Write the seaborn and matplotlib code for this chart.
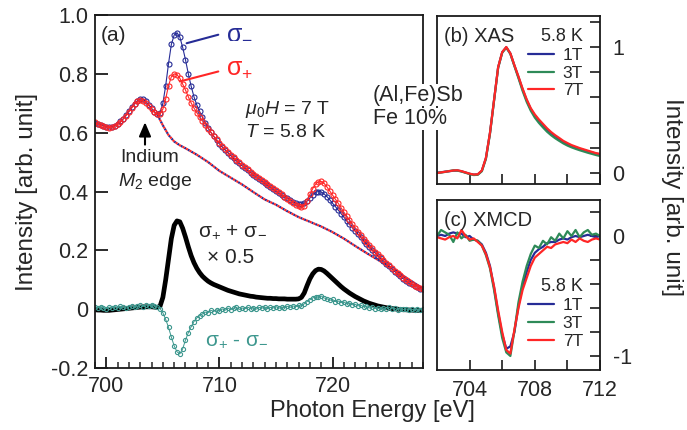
import numpy as np
import matplotlib
matplotlib.use("Agg")
import matplotlib.pyplot as plt
import seaborn as sns

# ---- panel (a): XAS spectra, 0.25 eV grid ----
energy_a = np.arange(699.0, 728.001, 0.25)

sigma_minus = [
    0.633, 0.630, 0.627, 0.623, 0.620, 0.618, 0.620, 0.624,
    0.630, 0.638, 0.648, 0.660, 0.673, 0.686, 0.699, 0.709,
    0.715, 0.713, 0.706, 0.695, 0.683, 0.671, 0.664, 0.668,
    0.700, 0.760, 0.835, 0.900, 0.932, 0.940, 0.925, 0.890,
    0.848, 0.800, 0.758, 0.722, 0.694, 0.672, 0.652, 0.634,
    0.617, 0.601, 0.587, 0.574, 0.562, 0.551, 0.541, 0.531,
    0.522, 0.513, 0.504, 0.496, 0.488, 0.480, 0.472, 0.464,
    0.457, 0.450, 0.443, 0.436, 0.429, 0.422, 0.415, 0.408,
    0.401, 0.395, 0.389, 0.383, 0.377, 0.371, 0.365, 0.360,
    0.357, 0.356, 0.360, 0.368, 0.378, 0.389, 0.397, 0.400,
    0.398, 0.392, 0.383, 0.372, 0.360, 0.349, 0.337, 0.325,
    0.313, 0.301, 0.289, 0.277, 0.266, 0.255, 0.244, 0.233,
    0.222, 0.212, 0.202, 0.192, 0.182, 0.173, 0.164, 0.155,
    0.146, 0.137, 0.128, 0.120, 0.112, 0.104, 0.096, 0.089,
    0.084, 0.079, 0.074, 0.070, 0.067,
]
sigma_plus = [
    0.635, 0.628, 0.625, 0.621, 0.619, 0.617, 0.618, 0.622,
    0.629, 0.637, 0.646, 0.658, 0.671, 0.684, 0.697, 0.706,
    0.710, 0.708, 0.702, 0.692, 0.680, 0.669, 0.662, 0.663,
    0.680, 0.715, 0.760, 0.790, 0.800, 0.797, 0.785, 0.765,
    0.745, 0.722, 0.701, 0.684, 0.668, 0.654, 0.640, 0.627,
    0.614, 0.601, 0.589, 0.577, 0.565, 0.554, 0.544, 0.534,
    0.525, 0.516, 0.507, 0.499, 0.491, 0.483, 0.475, 0.467,
    0.460, 0.453, 0.446, 0.439, 0.432, 0.425, 0.418, 0.411,
    0.404, 0.397, 0.390, 0.383, 0.376, 0.369, 0.362, 0.355,
    0.350, 0.346, 0.352, 0.368, 0.390, 0.410, 0.425, 0.433,
    0.434, 0.428, 0.416, 0.402, 0.388, 0.374, 0.360, 0.345,
    0.330, 0.316, 0.302, 0.289, 0.276, 0.264, 0.252, 0.240,
    0.229, 0.218, 0.207, 0.196, 0.186, 0.176, 0.167, 0.158,
    0.149, 0.140, 0.131, 0.123, 0.115, 0.107, 0.099, 0.092,
    0.086, 0.080, 0.075, 0.071, 0.068,
]
xas_sum = [
    -0.002, -0.003, -0.003, -0.004, -0.004, -0.004, -0.003, -0.002,
    -0.001, 0.000, 0.001, 0.002, 0.003, 0.004, 0.005, 0.006,
    0.007, 0.008, 0.008, 0.008, 0.008, 0.007, 0.006, 0.010,
    0.040, 0.100, 0.170, 0.240, 0.285, 0.300, 0.297, 0.275,
    0.245, 0.212, 0.182, 0.158, 0.139, 0.124, 0.112, 0.103,
    0.095, 0.089, 0.084, 0.080, 0.076, 0.072, 0.068, 0.064,
    0.061, 0.058, 0.055, 0.052, 0.050, 0.048, 0.046, 0.044,
    0.043, 0.041, 0.040, 0.039, 0.038, 0.037, 0.037, 0.036,
    0.036, 0.035, 0.035, 0.035, 0.034, 0.034, 0.034, 0.034,
    0.035, 0.040, 0.055, 0.080, 0.103, 0.120, 0.131, 0.136,
    0.135, 0.130, 0.122, 0.113, 0.104, 0.095, 0.086, 0.077,
    0.069, 0.062, 0.055, 0.049, 0.043, 0.038, 0.033, 0.028,
    0.024, 0.020, 0.017, 0.014, 0.011, 0.009, 0.007, 0.005,
    0.003, 0.002, 0.001, 0.000, -0.001, -0.002, -0.002, -0.003,
    -0.003, -0.004, -0.004, -0.004, -0.004,
]
xmcd_diff = [
    0.008, 0.004, 0.009, 0.005, 0.002, 0.007, 0.004, 0.009,
    0.005, 0.010, 0.006, 0.003, 0.008, 0.011, 0.006, 0.010,
    0.013, 0.009, 0.014, 0.011, 0.015, 0.012, 0.008, 0.002,
    -0.012, -0.035, -0.062, -0.095, -0.125, -0.145, -0.152, -0.135,
    -0.105, -0.080, -0.060, -0.042, -0.030, -0.022, -0.016, -0.010,
    -0.012, -0.004, -0.008, -0.002, -0.006, 0.001, -0.004, 0.004,
    -0.002, 0.003, 0.006, -0.001, 0.004, 0.001, 0.007, 0.002,
    0.005, 0.000, 0.006, 0.003, 0.008, 0.002, 0.006, 0.004,
    0.009, 0.003, 0.007, 0.005, 0.010, 0.006, 0.011, 0.008,
    0.013, 0.010, 0.018, 0.026, 0.032, 0.038, 0.042, 0.040,
    0.045, 0.038, 0.036, 0.030, 0.033, 0.026, 0.028, 0.022,
    0.025, 0.018, 0.021, 0.015, 0.017, 0.011, 0.014, 0.008,
    0.010, 0.004, 0.007, 0.002, 0.005, 0.000, 0.004, -0.001,
    0.006, 0.001, 0.003, -0.002, 0.002, -0.001, 0.001, -0.002,
    0.000, -0.003, 0.000, -0.002, -0.001,
]
# background (step) line under the spectra
bg_energy = [704.5, 705, 705.5, 706, 706.5, 707, 708, 709, 710, 711, 712, 713, 714,
             715, 716, 717, 718, 719, 720, 721, 722, 723, 724, 725, 726, 727, 728]
bg_level = [0.662, 0.625, 0.592, 0.570, 0.557, 0.547, 0.525, 0.500, 0.470, 0.447,
            0.424, 0.398, 0.373, 0.355, 0.333, 0.313, 0.297, 0.281, 0.262, 0.240,
            0.215, 0.191, 0.168, 0.145, 0.120, 0.095, 0.070]

# ---- panels (b), (c): field dependence, 0.25 eV grid ----
energy_bc = np.arange(702.0, 712.001, 0.25)
fields = ["1T", "3T", "7T"]
xas_1t = [0.002, 0.006, 0.011, 0.014, 0.019, 0.020, 0.014, 0.004,
          -0.006, -0.013, -0.011, 0.018, 0.118, 0.318, 0.578, 0.838,
          0.958, 0.998, 0.948, 0.852, 0.760, 0.664, 0.578, 0.508,
          0.456, 0.416, 0.380, 0.346, 0.316, 0.292, 0.268, 0.248,
          0.230, 0.215, 0.203, 0.192, 0.182, 0.172, 0.163, 0.155, 0.148]
xas_3t = [0.001, 0.004, 0.009, 0.016, 0.021, 0.019, 0.012, 0.002,
          -0.008, -0.016, -0.014, 0.014, 0.112, 0.312, 0.575, 0.835,
          0.955, 0.995, 0.945, 0.848, 0.752, 0.652, 0.565, 0.495,
          0.440, 0.398, 0.362, 0.328, 0.300, 0.276, 0.255, 0.235,
          0.218, 0.204, 0.192, 0.181, 0.171, 0.161, 0.152, 0.143, 0.135]
xas_7t = [0.000, 0.005, 0.010, 0.015, 0.020, 0.022, 0.015, 0.005,
          -0.005, -0.012, -0.010, 0.020, 0.120, 0.320, 0.580, 0.840,
          0.960, 1.000, 0.950, 0.855, 0.765, 0.670, 0.585, 0.515,
          0.465, 0.425, 0.390, 0.355, 0.325, 0.300, 0.278, 0.255,
          0.238, 0.222, 0.210, 0.198, 0.188, 0.178, 0.168, 0.158, 0.152]
xmcd_1t = [0.000, 0.010, 0.000, 0.020, 0.030, 0.020, 0.020, -0.010,
           0.000, -0.030, -0.040, -0.070, -0.140, -0.250, -0.430, -0.640,
           -0.820, -0.940, -0.920, -0.800, -0.580, -0.420, -0.300, -0.200,
           -0.140, -0.110, -0.090, -0.060, -0.050, -0.050, -0.030, -0.020,
           -0.030, -0.010, 0.000, -0.010, 0.000, 0.010, 0.000, -0.010, 0.000]
xmcd_3t = [0.000, 0.050, 0.030, 0.010, -0.050, 0.030, -0.020, 0.010,
           -0.040, -0.030, -0.040, -0.080, -0.160, -0.270, -0.450, -0.660,
           -0.850, -0.970, -1.000, -0.790, -0.550, -0.380, -0.250, -0.150,
           -0.080, -0.100, -0.040, -0.070, -0.010, -0.040, 0.020, -0.020,
           0.040, 0.000, 0.050, -0.010, 0.030, 0.050, 0.010, 0.020, 0.000]
xmcd_7t = [-0.010, -0.020, -0.030, -0.010, 0.000, -0.020, 0.050, 0.000,
           -0.030, -0.020, -0.050, -0.080, -0.150, -0.260, -0.420, -0.620,
           -0.800, -0.950, -0.980, -0.780, -0.600, -0.450, -0.350, -0.250,
           -0.180, -0.150, -0.120, -0.090, -0.100, -0.070, -0.060, -0.050,
           -0.060, -0.030, -0.050, -0.020, -0.040, -0.050, -0.030, -0.020, -0.030]

BLUE = "#262c96"
RED = "#ff2626"
TEAL = "#3d978e"
GREEN = "#2e8a58"
field_colors = [BLUE, GREEN, RED]

sns.set_theme(style="ticks")
plt.rcParams["font.family"] = ["Liberation Sans", "DejaVu Sans"]
plt.rcParams["mathtext.fontset"] = "custom"
plt.rcParams["mathtext.rm"] = "Liberation Sans"
plt.rcParams["mathtext.it"] = "Liberation Sans:italic"
plt.rcParams["axes.linewidth"] = 1.3
plt.rcParams["axes.edgecolor"] = "#1a1a1a"

fig = plt.figure(figsize=(6.87, 4.30), dpi=100)
ax_a = fig.add_axes([0.1383, 0.1442, 0.4774, 0.8209])
ax_b = fig.add_axes([0.6361, 0.5721, 0.2373, 0.3907])
ax_c = fig.add_axes([0.6361, 0.1395, 0.2373, 0.3954])

# --- (a) ---
mk = dict(marker="o", markersize=3.6, markerfacecolor="none", markeredgewidth=0.8)
sns.lineplot(x=bg_energy, y=bg_level, ax=ax_a, color=BLUE, lw=1.6,
             linestyle=(0, (0.9, 0.9)))
sns.lineplot(x=bg_energy, y=bg_level, ax=ax_a, color=RED, lw=1.6,
             linestyle=(0.9, (0.9, 0.9)))
sns.lineplot(x=energy_a, y=sigma_minus, ax=ax_a, color=BLUE, lw=0.8,
             markeredgecolor=BLUE, **mk)
sns.lineplot(x=energy_a, y=sigma_plus, ax=ax_a, color=RED, lw=0.8,
             markeredgecolor=RED, **mk)
sns.lineplot(x=energy_a, y=xas_sum, ax=ax_a, color="black", lw=3.4)
sns.lineplot(x=energy_a, y=xmcd_diff, ax=ax_a, color=TEAL, lw=0.7,
             marker="o", markersize=3.0, markerfacecolor="none",
             markeredgecolor=TEAL, markeredgewidth=0.8)

ax_a.set_xlim(699, 728)
ax_a.set_ylim(-0.2, 1.0)
ax_a.set_xticks([700, 710, 720])
ax_a.set_xticks(np.arange(699, 729), minor=True)
ax_a.set_yticks([-0.2, 0, 0.2, 0.4, 0.6, 0.8, 1.0])
ax_a.set_yticklabels(["-0.2", "0", "0.2", "0.4", "0.6", "0.8", "1.0"])
ax_a.tick_params(axis="both", which="major", direction="in", labelsize=15.5,
                 width=1.3, color="#1a1a1a")
ax_a.tick_params(axis="x", which="major", length=8, pad=6)
ax_a.tick_params(axis="x", which="minor", direction="in", length=4.5, width=1.1)
ax_a.tick_params(axis="y", which="major", length=9, pad=5)
ax_a.set_xlabel("")
ax_a.set_ylabel("")

ax_a.text(0.018, 0.943, "(a)", transform=ax_a.transAxes, fontsize=15, va="center")
ax_a.plot([707.1, 709.9], [0.904, 0.933], color=BLUE, lw=1.5)
ax_a.plot([706.5, 709.9], [0.774, 0.808], color=RED, lw=1.5)
ax_a.text(710.6, 0.945, r"σ$_{-}$", color=BLUE, fontsize=18, va="center")
ax_a.text(710.6, 0.820, r"σ$_{+}$", color=RED, fontsize=18, va="center")
ax_a.text(712.3, 0.678, r"$\mu_0H$ = 7 T", fontsize=14, va="center")
ax_a.text(712.3, 0.599, r"$T$ = 5.8 K", fontsize=14, va="center")
ax_a.annotate("", xy=(703.42, 0.645), xytext=(703.42, 0.55),
              arrowprops=dict(arrowstyle="-|>,head_width=0.3,head_length=0.7",
                              color="black", lw=1.5))
ax_a.text(701.2, 0.514, "Indium", fontsize=14, va="center")
ax_a.text(701.05, 0.433, r"$M_2$ edge", fontsize=14, va="center")
ax_a.text(708.1, 0.263, r"σ$_{+}$ + σ$_{-}$", fontsize=15, va="center")
ax_a.text(708.9, 0.174, "× 0.5", fontsize=15, va="center")
ax_a.text(708.7, -0.105, r"σ$_{+}$ - σ$_{-}$", fontsize=15, va="center", color=TEAL)

# --- (b) XAS ---
for lab, col, vals in zip(fields, field_colors, [xas_1t, xas_3t, xas_7t]):
    sns.lineplot(x=energy_bc, y=vals, ax=ax_b, color=col, lw=1.6, label=lab)
ax_b.set_xlim(702, 712)
ax_b.set_ylim(-0.087, 1.246)
ax_b.set_xticks([704, 706, 708, 710, 712])
ax_b.set_xticklabels([])
ax_b.set_yticks([0, 0.2, 0.4, 0.6, 0.8, 1.0, 1.2])
ax_b.set_yticklabels(["0", "", "", "", "", "1", ""])
ax_b.text(0.04, 0.88, "(b) XAS", transform=ax_b.transAxes, fontsize=14.5, va="center")

# --- (c) XMCD ---
for lab, col, vals in zip(fields, field_colors, [xmcd_1t, xmcd_3t, xmcd_7t]):
    sns.lineplot(x=energy_bc, y=vals, ax=ax_c, color=col, lw=1.6, label=lab)
ax_c.set_xlim(702, 712)
ax_c.set_ylim(-1.117, 0.3)
ax_c.set_xticks([704, 706, 708, 710, 712])
ax_c.set_xticklabels(["704", "", "708", "", "712"])
ax_c.set_yticks([-1.0, -0.8, -0.6, -0.4, -0.2, 0, 0.2])
ax_c.set_yticklabels(["-1", "", "", "", "", "0", ""])
ax_c.text(0.04, 0.88, "(c) XMCD", transform=ax_c.transAxes, fontsize=14.5, va="center")

for ax, anchor in [(ax_b, (0.96, 0.99)), (ax_c, (0.96, 0.60))]:
    ax.set_xlabel("")
    ax.set_ylabel("")
    ax.yaxis.tick_right()
    ax.tick_params(axis="both", direction="in", length=7, width=1.2,
                   labelsize=15.5, color="#1a1a1a")
    ax.tick_params(axis="y", pad=9)
    ax.tick_params(axis="x", pad=7)
    leg = ax.legend(title="5.8 K", loc="upper right", bbox_to_anchor=anchor,
                    frameon=False, fontsize=12.5, title_fontsize=13,
                    handlelength=1.5, handletextpad=0.5, labelspacing=0.15,
                    borderaxespad=0.2, alignment="right")

# figure-level texts
fig.text(373 / 687, 1 - 95 / 430, "(Al,Fe)Sb", fontsize=15.5, va="center", ha="left",
         bbox=dict(facecolor="white", edgecolor="none", pad=0.5))
fig.text(373 / 687, 1 - 119 / 430, "Fe 10%", fontsize=15.5, va="center", ha="left",
         bbox=dict(facecolor="white", edgecolor="none", pad=0.5))
fig.text(372 / 687, 1 - 411 / 430, "Photon Energy [eV]", fontsize=17,
         ha="center", va="center")
fig.text(27 / 687, 1 - 192 / 430, "Intensity [arb. unit]", fontsize=17.5,
         rotation=90, ha="center", va="center")
fig.text(672 / 687, 1 - 197 / 430, "Intensity [arb. unit]", fontsize=17.5,
         rotation=270, ha="center", va="center")

fig.savefig("out.png", dpi=100)
